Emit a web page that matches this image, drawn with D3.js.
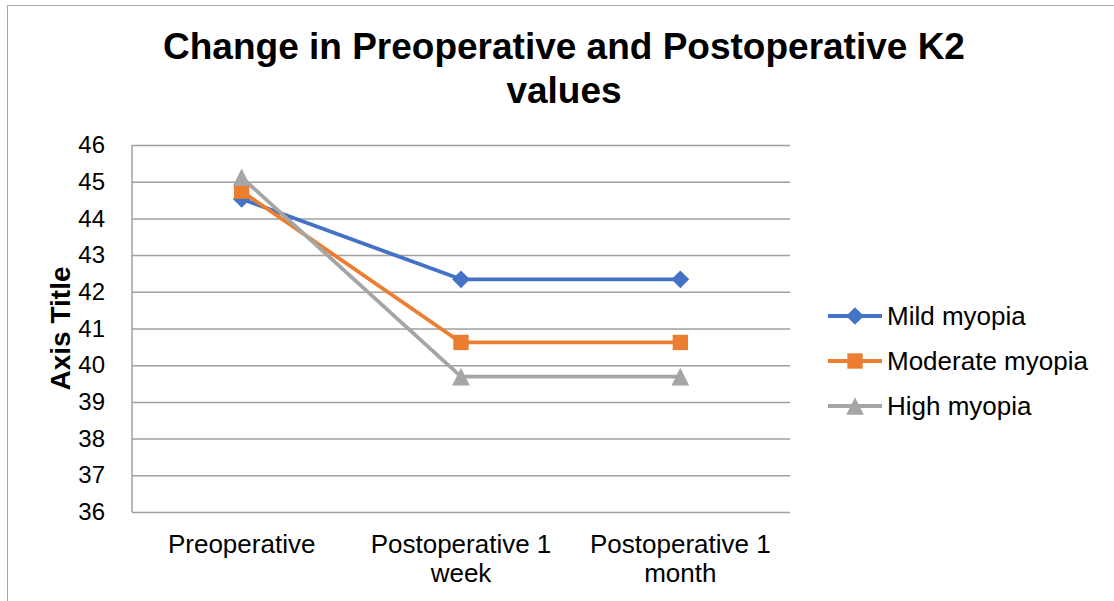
<!DOCTYPE html>
<html>
<head>
<meta charset="utf-8">
<script src="https://cdn.jsdelivr.net/npm/d3@7"></script>
<style>
  html, body { margin: 0; padding: 0; background: #fff; }
  svg { display: block; font-family: "Liberation Sans", Arial, sans-serif; }
</style>
</head>
<body>
<div id="chart"></div>
<script>
// chart data
const categories = ["Preoperative", "Postoperative 1 week", "Postoperative 1 month"];
const seriesNames = ["Mild myopia", "Moderate myopia", "High myopia"];
const mildValues = [44.53, 42.34, 42.34];
const moderateValues = [44.74, 40.62, 40.62];
const highValues = [45.12, 39.69, 39.69];
const yTicks = [36, 37, 38, 39, 40, 41, 42, 43, 44, 45, 46];
const titleLines = ["Change in Preoperative and Postoperative K2", "values"];

const width = 1114, height = 601;
const plot = { left: 132, right: 790, top: 145, bottom: 512 };

// excel-like triangle: box centered on the point
const triangleUp = {
  draw(ctx, size) {
    const h = Math.sqrt(size) / 2;
    ctx.moveTo(0, -h);
    ctx.lineTo(h, h);
    ctx.lineTo(-h, h);
    ctx.closePath();
  }
};

const series = [
  { name: seriesNames[0], values: mildValues, color: "#4472C4", shape: d3.symbolDiamond2, size: 200 },
  { name: seriesNames[1], values: moderateValues, color: "#ED7D31", shape: d3.symbolSquare2, size: 300 },
  { name: seriesNames[2], values: highValues, color: "#A5A5A5", shape: triangleUp, size: 310 }
];

const svg = d3.select("#chart").append("svg")
    .attr("width", width)
    .attr("height", height);

// outer chart border (runs past right/bottom edge like the reference)
svg.append("rect")
    .attr("x", 7.5).attr("y", 5.5)
    .attr("width", width + 20).attr("height", height + 20)
    .attr("fill", "#fff")
    .attr("stroke", "#a6a6a6")
    .attr("stroke-width", 1);

const x = d3.scaleBand()
    .domain(categories)
    .range([plot.left, plot.right]);

const y = d3.scaleLinear()
    .domain([36, 46])
    .range([plot.bottom, plot.top]);

// title
svg.append("text")
    .attr("x", 564)
    .attr("y", 58.5)
    .attr("text-anchor", "middle")
    .attr("font-size", 37)
    .attr("font-weight", "bold")
  .selectAll("tspan")
  .data(titleLines)
  .join("tspan")
    .attr("x", 564)
    .attr("dy", (d, i) => i === 0 ? 0 : 44)
    .text(d => d);

// y axis + gridlines
const yAxis = svg.append("g")
    .attr("transform", `translate(${plot.left},0)`)
    .call(d3.axisLeft(y)
        .tickValues(yTicks)
        .tickSize(-(plot.right - plot.left))
        .tickPadding(27)
        .tickFormat(d3.format("d")));

yAxis.select(".domain").remove();
yAxis.selectAll(".tick line")
    .attr("stroke", "#a0a0a0")
    .attr("stroke-width", 1.5);
yAxis.selectAll(".tick text")
    .attr("font-family", "Liberation Sans, Arial, sans-serif")
    .attr("font-size", 24)
    .attr("fill", "#000");

// left axis line
svg.append("line")
    .attr("x1", plot.left).attr("x2", plot.left)
    .attr("y1", plot.top).attr("y2", plot.bottom)
    .attr("stroke", "#a0a0a0")
    .attr("stroke-width", 1.5);

// y axis title
svg.append("text")
    .attr("transform", `translate(60,${(plot.top + plot.bottom) / 2}) rotate(-90)`)
    .attr("text-anchor", "middle")
    .attr("dy", "0.35em")
    .attr("font-size", 28)
    .attr("font-weight", "bold")
    .text("Axis Title");

// x category labels, wrapped to band width
const xLabels = svg.append("g")
  .selectAll("text")
  .data(categories)
  .join("text")
    .attr("x", d => x(d) + x.bandwidth() / 2)
    .attr("y", 553)
    .attr("text-anchor", "middle")
    .attr("font-size", 26)
    .attr("fill", "#000")
    .text(d => d);

xLabels.each(function(d) {
  const text = d3.select(this);
  const words = d.split(" ");
  const cx = text.attr("x");
  text.text(null);
  let line = [];
  let tspan = text.append("tspan").attr("x", cx).attr("dy", 0);
  words.forEach(w => {
    line.push(w);
    tspan.text(line.join(" "));
    if (tspan.node().getComputedTextLength() > x.bandwidth() - 10 && line.length > 1) {
      line.pop();
      tspan.text(line.join(" "));
      line = [w];
      tspan = text.append("tspan").attr("x", cx).attr("dy", 29).text(w);
    }
  });
});

// series lines
const line = d3.line()
    .x((d, i) => x(categories[i]) + x.bandwidth() / 2)
    .y(d => y(d));

svg.append("g")
  .selectAll("path")
  .data(series)
  .join("path")
    .attr("d", d => line(d.values))
    .attr("fill", "none")
    .attr("stroke", d => d.color)
    .attr("stroke-width", 3.8)
    .attr("stroke-linejoin", "round");

// markers
series.forEach(s => {
  svg.append("g")
    .selectAll("path")
    .data(s.values)
    .join("path")
      .attr("transform", (d, i) => `translate(${x(categories[i]) + x.bandwidth() / 2},${y(d)})`)
      .attr("d", d3.symbol(s.shape, s.size))
      .attr("fill", s.color);
});

// legend
const legend = svg.append("g")
    .attr("transform", "translate(828,316)");

const item = legend.selectAll("g")
  .data(series)
  .join("g")
    .attr("transform", (d, i) => `translate(0,${i * 45})`);

item.append("line")
    .attr("x1", 0).attr("x2", 54)
    .attr("stroke", d => d.color)
    .attr("stroke-width", 3.8);

item.append("path")
    .attr("transform", "translate(27,0)")
    .attr("d", d => d3.symbol(d.shape, d.size)())
    .attr("fill", d => d.color);

item.append("text")
    .attr("x", 59)
    .attr("dy", "0.35em")
    .attr("font-size", 26)
    .attr("fill", "#000")
    .text(d => d.name);
</script>
</body>
</html>
